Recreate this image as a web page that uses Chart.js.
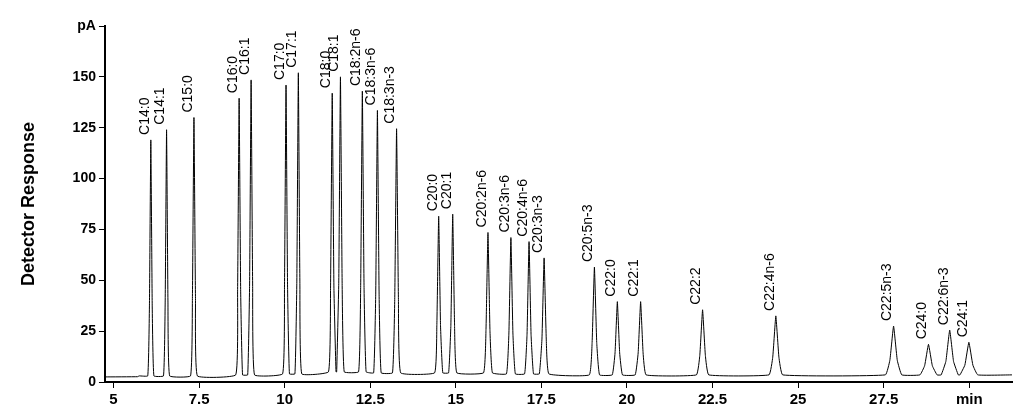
<!DOCTYPE html>
<html>
<head>
<script src="https://cdn.jsdelivr.net/npm/chart.js@4"></script>
<style>
body { margin: 0; background: #fff; }
#wrap { width: 1015px; height: 418px; }
</style>
</head>
<body>
<div id="wrap"><canvas id="chart"></canvas></div>
<script>
// peak names, retention times (min), heights (pA), half base widths and baseline under each peak
var peakNames = ['C14:0','C14:1','C15:0','C16:0','C16:1','C17:0','C17:1','C18:0','C18:1','C18:2n-6','C18:3n-6','C18:3n-3',
	'C20:0','C20:1','C20:2n-6','C20:3n-6','C20:4n-6','C20:3n-3','C20:5n-3','C22:0','C22:1','C22:2','C22:4n-6',
	'C22:5n-3','C24:0','C22:6n-3','C24:1'];
var peakTimes = [6.09,6.55,7.35,8.67,9.02,10.04,10.40,11.39,11.63,12.27,12.71,13.27,
	14.50,14.91,15.94,16.61,17.14,17.58,19.05,19.72,20.40,22.21,24.35,27.79,28.81,29.43,29.99];
var peakHeights = [116,121,127,136,145,142,148,137,145,138,129,120,
	77,78,69,67,65,57,53,36,36,32,29,24,15,22,16];
var peakWidths = [0.09,0.09,0.1,0.1,0.1,0.1,0.1,0.11,0.11,0.11,0.11,0.12,
	0.12,0.12,0.13,0.13,0.13,0.14,0.15,0.15,0.16,0.18,0.2,0.24,0.25,0.25,0.26];
var baseLevels = [3,3,3,3.5,3.5,4,4,5,5,5,4.5,4.5,4.5,4.5,4.5,4,4,4,3.5,3.5,3.5,3.5,3.5,3.5,3.5,3.5,3.5];
var xTicks = [5,7.5,10,12.5,15,17.5,20,22.5,25,27.5,30];

var trace = [{x: 4.75, y: 2.5}, {x: 5.7, y: 2.6}, {x: 5.75, y: 3}];
for (var i = 0; i < peakTimes.length; i++) {
	var t = peakTimes[i], w = peakWidths[i], b = baseLevels[i], h = peakHeights[i];
	trace.push({x: t - w, y: b});
	trace.push({x: t - w * 0.45, y: b + h * 0.3});
	trace.push({x: t, y: b + h});
	trace.push({x: t + w * 0.45, y: b + h * 0.3});
	trace.push({x: t + w, y: b});
}
trace.push({x: 31.25, y: 3.5});

var peakLabels = {
	id: 'peakLabels',
	afterDatasetsDraw: function (chart) {
		var ctx = chart.ctx, xs = chart.scales.x, ys = chart.scales.y;
		ctx.save();
		ctx.font = '14px "Liberation Sans", Arial, sans-serif';
		ctx.fillStyle = '#000';
		ctx.textAlign = 'left';
		ctx.textBaseline = 'middle';
		for (var i = 0; i < peakNames.length; i++) {
			var px = xs.getPixelForValue(peakTimes[i]);
			var py = ys.getPixelForValue(peakHeights[i] + baseLevels[i]) - 5;
			ctx.save();
			ctx.translate(px - 6, py);
			ctx.rotate(-Math.PI / 2);
			ctx.fillText(peakNames[i], 0, 0);
			ctx.restore();
		}
		ctx.restore();
	}
};

new Chart(document.getElementById('chart'), {
	type: 'line',
	data: {datasets: [{data: trace, borderColor: '#000', borderWidth: 1, pointRadius: 0, tension: 0.1, fill: false}]},
	options: {
		responsive: true,
		maintainAspectRatio: false,
		animation: false,
		layout: {padding: {top: 26, right: 3, left: 14, bottom: 6}},
		plugins: {legend: {display: false}, tooltip: {enabled: false}},
		scales: {
			x: {
				type: 'linear', min: 4.75, max: 31.25,
				afterBuildTicks: function (axis) { axis.ticks = xTicks.map(function (v) { return {value: v}; }); },
				ticks: {
					color: '#000', font: {family: 'Liberation Sans', size: 15, weight: 'bold'},
					callback: function (v) { return v === 30 ? 'min' : v; }
				},
				grid: {drawOnChartArea: false, color: '#000', tickLength: 6},
				border: {color: '#000', width: 2}
			},
			y: {
				min: 0, max: 175,
				ticks: {
					stepSize: 25, color: '#000', font: {family: 'Liberation Sans', size: 14, weight: 'bold'},
					callback: function (v) { return v === 175 ? 'pA' : v; }
				},
				grid: {drawOnChartArea: false, color: '#000', tickLength: 6},
				border: {color: '#000', width: 2},
				title: {display: true, text: 'Detector Response', color: '#000', font: {family: 'Liberation Sans', size: 18, weight: 'bold'}, padding: {bottom: 30}}
			}
		}
	},
	plugins: [peakLabels]
});
</script>
</body>
</html>
